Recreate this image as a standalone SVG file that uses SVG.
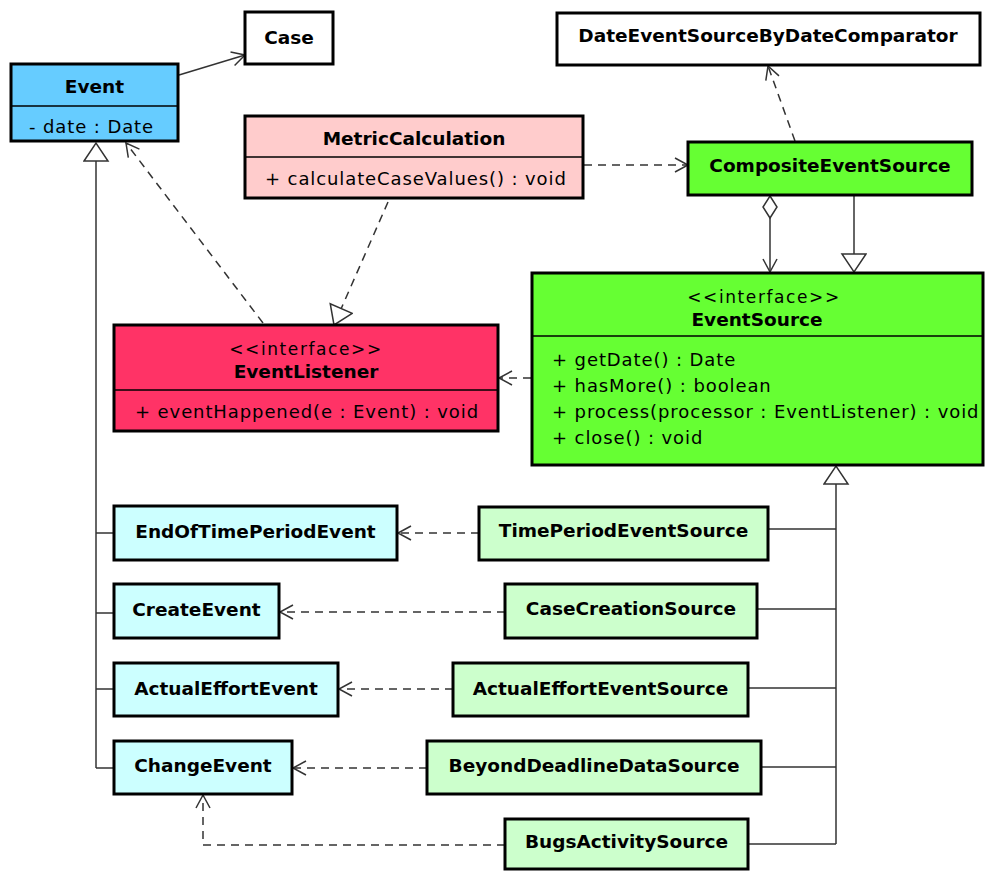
<svg xmlns="http://www.w3.org/2000/svg" width="986" height="871" viewBox="0 0 986 871">
<style>
.box{stroke:#000;stroke-width:3}
.div{stroke:#000;stroke-width:1.5}
.t{font-family:"DejaVu Sans","Liberation Sans",sans-serif;font-size:18.5px;font-weight:bold;fill:#000;text-anchor:middle}
.r{font-family:"DejaVu Sans","Liberation Sans",sans-serif;font-size:18px;fill:#000;letter-spacing:0.9px}
.rc{font-family:"DejaVu Sans","Liberation Sans",sans-serif;font-size:17px;fill:#000;text-anchor:middle;letter-spacing:1.6px}
.c{fill:none;stroke:#333;stroke-width:1.5}
.d{fill:none;stroke:#333;stroke-width:1.5;stroke-dasharray:8 6}
.ev{fill:#ccffff}
.src{fill:#ccffcc}
</style>
<defs>
<marker id="open" markerUnits="userSpaceOnUse" markerWidth="16" markerHeight="18" refX="14" refY="9" orient="auto">
<path d="M1,2 L14,9 L1,16" fill="none" stroke="#333" stroke-width="1.5"/>
</marker>
<marker id="tri" markerUnits="userSpaceOnUse" markerWidth="22" markerHeight="28" refX="20" refY="13" orient="auto">
<path d="M2,1 L20,13 L2,25 Z" fill="#fff" stroke="#333" stroke-width="1.5"/>
</marker>
<marker id="dia" markerUnits="userSpaceOnUse" markerWidth="26" markerHeight="18" refX="1" refY="8" orient="auto">
<path d="M1,8 L12,1 L23,8 L12,15 Z" fill="#fff" stroke="#333" stroke-width="1.5"/>
</marker>
</defs>
<rect width="986" height="871" fill="#fff"/>

<g id="connectors">
<line class="c" x1="179" y1="75" x2="245" y2="55" marker-end="url(#open)"/>
<line class="d" x1="263" y1="323" x2="126" y2="143" marker-end="url(#open)"/>
<line class="d" x1="388" y1="202" x2="334" y2="325" marker-end="url(#tri)"/>
<line class="d" x1="584" y1="165" x2="688" y2="165" marker-end="url(#open)"/>
<line class="d" x1="795" y1="141" x2="768" y2="66" marker-end="url(#open)"/>
<line class="c" x1="770" y1="196" x2="770" y2="272" marker-start="url(#dia)" marker-end="url(#open)"/>
<line class="c" x1="854" y1="196" x2="854" y2="272" marker-end="url(#tri)"/>
<line class="d" x1="531" y1="378" x2="499" y2="378" marker-end="url(#open)"/>
<line class="c" x1="96" y1="768" x2="96" y2="143" marker-end="url(#tri)"/>
<path class="c" d="M96,533 H114 M96,613 H114 M96,689 H114 M96,768 H114"/>
<line class="c" x1="836" y1="844" x2="836" y2="466" marker-end="url(#tri)"/>
<path class="c" d="M768,529 H836 M757,609 H836 M748,688 H836 M761,767 H836 M748,844 H836"/>
<line class="d" x1="479" y1="533" x2="398" y2="533" marker-end="url(#open)"/>
<line class="d" x1="505" y1="612" x2="280" y2="612" marker-end="url(#open)"/>
<line class="d" x1="453" y1="689" x2="339" y2="689" marker-end="url(#open)"/>
<line class="d" x1="427" y1="768" x2="293" y2="768" marker-end="url(#open)"/>
<path class="d" d="M505,845 H203 V795" marker-end="url(#open)"/>
</g>

<g id="Case">
<rect class="box" x="245" y="12" width="88" height="52" fill="#fff"/>
<text class="t" x="289" y="44">Case</text>
</g>
<g id="Event">
<rect class="box" x="11" y="64" width="167" height="77" fill="#66ccff"/>
<line class="div" x1="11" y1="106" x2="178" y2="106"/>
<text class="t" x="94.5" y="93">Event</text>
<text class="r" x="29" y="133">- date : Date</text>
</g>
<g id="MetricCalculation">
<rect class="box" x="245" y="116" width="338" height="82" fill="#ffcccc"/>
<line class="div" x1="245" y1="157" x2="583" y2="157"/>
<text class="t" x="414" y="145">MetricCalculation</text>
<text class="r" x="265" y="185">+ calculateCaseValues() : void</text>
</g>
<g id="DateEventSourceByDateComparator">
<rect class="box" x="557" y="13" width="423" height="52" fill="#fff"/>
<text class="t" x="768" y="42">DateEventSourceByDateComparator</text>
</g>
<g id="CompositeEventSource">
<rect class="box" x="688" y="142" width="284" height="53" fill="#66ff33"/>
<text class="t" x="830" y="172">CompositeEventSource</text>
</g>
<g id="EventListener">
<rect class="box" x="114" y="325" width="384" height="106" fill="#ff3366"/>
<line class="div" x1="114" y1="390" x2="498" y2="390"/>
<text class="rc" x="306" y="355">&lt;&lt;interface&gt;&gt;</text>
<text class="t" x="306" y="378">EventListener</text>
<text class="r" x="135" y="418">+ eventHappened(e : Event) : void</text>
</g>
<g id="EventSource">
<rect class="box" x="532" y="273" width="451" height="192" fill="#66ff33"/>
<line class="div" x1="532" y1="336" x2="983" y2="336"/>
<text class="rc" x="764" y="303">&lt;&lt;interface&gt;&gt;</text>
<text class="t" x="757" y="326">EventSource</text>
<text class="r" x="552" y="366">+ getDate() : Date</text>
<text class="r" x="552" y="392">+ hasMore() : boolean</text>
<text class="r" x="552" y="418">+ process(processor : EventListener) : void</text>
<text class="r" x="552" y="444">+ close() : void</text>
</g>
<g id="EndOfTimePeriodEvent">
<rect class="box ev" x="114" y="506" width="283" height="54"/>
<text class="t" x="255.5" y="538">EndOfTimePeriodEvent</text>
</g>
<g id="CreateEvent">
<rect class="box ev" x="114" y="584" width="165" height="54"/>
<text class="t" x="196.5" y="616">CreateEvent</text>
</g>
<g id="ActualEffortEvent">
<rect class="box ev" x="114" y="663" width="224" height="53"/>
<text class="t" x="226" y="695">ActualEffortEvent</text>
</g>
<g id="ChangeEvent">
<rect class="box ev" x="114" y="741" width="178" height="53"/>
<text class="t" x="203" y="772">ChangeEvent</text>
</g>
<g id="TimePeriodEventSource">
<rect class="box src" x="479" y="507" width="289" height="53"/>
<text class="t" x="623.5" y="537">TimePeriodEventSource</text>
</g>
<g id="CaseCreationSource">
<rect class="box src" x="505" y="584" width="252" height="54"/>
<text class="t" x="631" y="615">CaseCreationSource</text>
</g>
<g id="ActualEffortEventSource">
<rect class="box src" x="453" y="663" width="295" height="53"/>
<text class="t" x="600.5" y="695">ActualEffortEventSource</text>
</g>
<g id="BeyondDeadlineDataSource">
<rect class="box src" x="427" y="741" width="334" height="53"/>
<text class="t" x="594" y="772">BeyondDeadlineDataSource</text>
</g>
<g id="BugsActivitySource">
<rect class="box src" x="505" y="819" width="243" height="50"/>
<text class="t" x="626.5" y="848">BugsActivitySource</text>
</g>
</svg>
